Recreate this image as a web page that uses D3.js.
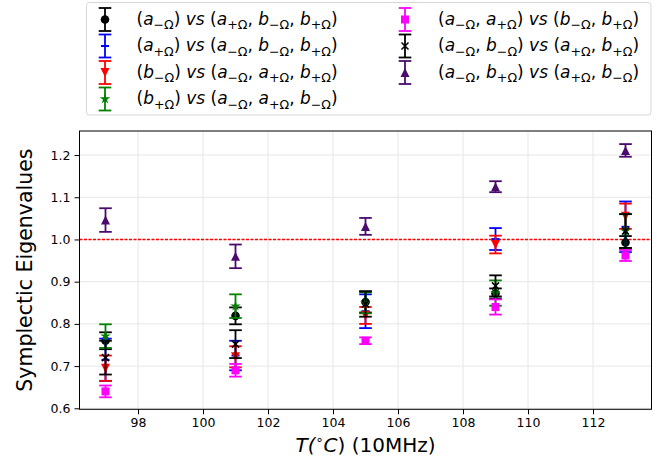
<!DOCTYPE html>
<html><head><meta charset="utf-8">
<script src="https://cdn.jsdelivr.net/npm/d3@7/dist/d3.min.js"></script>
<style>body{margin:0;background:#fff}svg{display:block}</style>
</head><body><svg id="chart" width="659" height="466"></svg>
<script>
// Temperatures (x) at which the eigenvalues were measured
const temps = [97, 101, 105, 109, 113];
const xTicks = [98, 100, 102, 104, 106, 108, 110, 112];
const yTicks = [0.6, 0.7, 0.8, 0.9, 1.0, 1.1, 1.2];

// One array of values and one of error bars per bipartition
const aMinusVals  = [0.760, 0.819, 0.852, 0.872, 0.993];
const aMinusErr   = [0.020, 0.020, 0.025, 0.012, 0.015];
const aPlusVals   = [0.715, 0.725, 0.830, 1.001, 1.030];
const aPlusErr    = [0.050, 0.035, 0.040, 0.026, 0.060];
const bMinusVals  = [0.695, 0.722, 0.820, 0.988, 1.055];
const bMinusErr   = [0.030, 0.025, 0.020, 0.021, 0.030];
const bPlusVals   = [0.771, 0.842, 0.850, 0.873, 1.020];
const bPlusErr    = [0.028, 0.028, 0.025, 0.030, 0.040];
const aaVals      = [0.640, 0.690, 0.760, 0.840, 0.962];
const aaErr       = [0.014, 0.015, 0.008, 0.018, 0.013];
const abVals      = [0.720, 0.752, 0.847, 0.890, 1.020];
const abErr       = [0.040, 0.033, 0.030, 0.025, 0.040];
const apbmVals    = [1.046, 0.960, 1.031, 1.125, 1.211];
const apbmErr     = [0.028, 0.028, 0.020, 0.013, 0.015];

const labels = [
  "(a_{−Ω}) vs (a_{+Ω}, b_{−Ω}, b_{+Ω})",
  "(a_{+Ω}) vs (a_{−Ω}, b_{−Ω}, b_{+Ω})",
  "(b_{−Ω}) vs (a_{−Ω}, a_{+Ω}, b_{+Ω})",
  "(b_{+Ω}) vs (a_{−Ω}, a_{+Ω}, b_{−Ω})",
  "(a_{−Ω}, a_{+Ω}) vs (b_{−Ω}, b_{+Ω})",
  "(a_{−Ω}, b_{−Ω}) vs (a_{+Ω}, b_{+Ω})",
  "(a_{−Ω}, b_{+Ω}) vs (a_{+Ω}, b_{−Ω})"
];
const colors  = ["#000000", "#0000ff", "#ff0000", "#008000", "#ff00ff", "#000000", "#4b0a6e"];
const markers = ["circle", "hline", "tridown", "star", "square", "cross", "triup"];
const values  = [aMinusVals, aPlusVals, bMinusVals, bPlusVals, aaVals, abVals, apbmVals];
const errors  = [aMinusErr, aPlusErr, bMinusErr, bPlusErr, aaErr, abErr, apbmErr];

const series = labels.map((label, i) => ({
  label, color: colors[i], marker: markers[i],
  points: temps.map((t, j) => ({ t, v: values[i][j], e: errors[i][j] }))
}));

const svg = d3.select("#chart");
const FONT = "DejaVu Sans, sans-serif";
const m = { left: 79.5, right: 651.5, top: 131, bottom: 409.3 };

const x = d3.scaleLinear().domain([96.2, 113.8]).range([m.left, m.right]);
const y = d3.scaleLinear().domain([0.5976, 1.257]).range([m.bottom, m.top]);

// grid
const grid = svg.append("g").attr("stroke", "#e6e6e6").attr("stroke-width", 1);
grid.selectAll(".gx").data(xTicks).join("line")
  .attr("x1", d => x(d)).attr("x2", d => x(d)).attr("y1", m.top).attr("y2", m.bottom);
grid.selectAll(".gy").data(yTicks).join("line")
  .attr("x1", m.left).attr("x2", m.right).attr("y1", d => y(d)).attr("y2", d => y(d));

// reference line at unity
svg.append("line")
  .attr("x1", m.left).attr("x2", m.right).attr("y1", y(1.0)).attr("y2", y(1.0))
  .attr("stroke", "#ff0000").attr("stroke-width", 1.5).attr("stroke-dasharray", "3,1.5");

// axes
const xAxis = d3.axisBottom(x).tickValues(xTicks).tickFormat(d3.format("d")).tickSize(5).tickPadding(4);
const yAxis = d3.axisLeft(y).tickValues(yTicks).tickFormat(d3.format(".1f")).tickSize(5).tickPadding(4);
const gx = svg.append("g").attr("transform", `translate(0,${m.bottom})`).call(xAxis);
const gy = svg.append("g").attr("transform", `translate(${m.left},0)`).call(yAxis);
[gx, gy].forEach(g => {
  g.select(".domain").remove();
  g.selectAll("text").attr("font-family", FONT).attr("font-size", 12.5).attr("fill", "#000");
  g.selectAll("line").attr("stroke", "#000").attr("stroke-width", 1);
});

// frame
svg.append("rect").attr("x", m.left).attr("y", m.top)
  .attr("width", m.right - m.left).attr("height", m.bottom - m.top)
  .attr("fill", "none").attr("stroke", "#000").attr("stroke-width", 1);

// marker glyphs
function drawMarker(g, type, color) {
  const s = 4.5;
  switch (type) {
    case "circle":
      g.append("circle").attr("r", 4.3).attr("fill", color); break;
    case "square":
      g.append("rect").attr("x", -4).attr("y", -4).attr("width", 8).attr("height", 8).attr("fill", color); break;
    case "tridown":
      g.append("path").attr("d", `M${-s},${-s}L${s},${-s}L0,${s}Z`).attr("fill", color); break;
    case "triup":
      g.append("path").attr("d", `M${-s},${s}L${s},${s}L0,${-s}Z`).attr("fill", color); break;
    case "star":
      g.append("path").attr("d", d3.symbol(d3.symbolStar, 34)()).attr("fill", color); break;
    case "cross":
      g.append("path").attr("d", `M-3.5,-3.5L3.5,3.5M-3.5,3.5L3.5,-3.5`)
        .attr("stroke", color).attr("stroke-width", 1.5); break;
    case "hline":
      g.append("path").attr("d", `M-4,0L4,0`).attr("stroke", color).attr("stroke-width", 2); break;
  }
}

function drawErrorBar(g, x0, yTop, yBot, color) {
  const cap = 6.3;
  g.append("line").attr("x1", x0).attr("x2", x0).attr("y1", yTop).attr("y2", yBot)
    .attr("stroke", color).attr("stroke-width", 1.8);
  [yTop, yBot].forEach(yy => g.append("line")
    .attr("x1", x0 - cap).attr("x2", x0 + cap).attr("y1", yy).attr("y2", yy)
    .attr("stroke", color).attr("stroke-width", 1.8));
}

// data marks
const plot = svg.append("g");
series.forEach(s => {
  const g = plot.append("g");
  s.points.forEach(p => {
    drawErrorBar(g, x(p.t), y(p.v + p.e), y(p.v - p.e), s.color);
    drawMarker(g.append("g").attr("transform", `translate(${x(p.t)},${y(p.v)})`), s.marker, s.color);
  });
});

// axis titles
svg.append("text").attr("x", (m.left + m.right) / 2).attr("y", 452)
  .attr("text-anchor", "middle").attr("font-family", FONT).attr("font-size", 20)
  .call(t => {
    t.append("tspan").attr("font-style", "italic").text("T(");
    t.append("tspan").attr("font-size", 13).attr("dy", -8).text("∘");
    t.append("tspan").attr("dy", 8).attr("font-style", "italic").text("C");
    t.append("tspan").text(") (10MHz)");
  });
svg.append("text").attr("transform", `translate(32,${(m.top + m.bottom) / 2}) rotate(-90)`)
  .attr("text-anchor", "middle").attr("font-family", FONT).attr("font-size", 20.5)
  .text("Symplectic Eigenvalues");

// legend label: letters italic, _{...} drawn as a lowered subscript
function mathLabel(textSel, str) {
  const re = /_\{([^}]*)\}|([a-zA-Z]+)|([^_a-zA-Z]+)/g;
  const drop = 4.5;
  let pending = 0, mm;
  while ((mm = re.exec(str)) !== null) {
    let ts;
    if (mm[1] !== undefined) {
      ts = textSel.append("tspan").attr("font-size", 12.6).attr("dy", pending + drop).text(mm[1]);
      pending = -drop;
      continue;
    } else if (mm[2] !== undefined) {
      ts = textSel.append("tspan").attr("font-style", "italic").text(mm[2]);
    } else {
      ts = textSel.append("tspan").text(mm[3]);
    }
    if (pending) ts.attr("dy", pending);
    pending = 0;
  }
}

const legend = svg.append("g");
legend.append("rect").attr("x", 86.5).attr("y", 2.5).attr("width", 564.5).attr("height", 112.5)
  .attr("rx", 3).attr("fill", "#fff").attr("stroke", "#d6d6d6").attr("stroke-width", 1);
const rowY = [19.5, 46, 72.5, 99];
series.forEach((s, i) => {
  const col = i < 4 ? 0 : 1;
  const row = i < 4 ? i : i - 4;
  const hx = col === 0 ? 105 : 405;
  const tx = col === 0 ? 136.5 : 438;
  const cy = rowY[row];
  const g = legend.append("g");
  drawErrorBar(g, hx, cy - 11.5, cy + 11.5, s.color);
  drawMarker(g.append("g").attr("transform", `translate(${hx},${cy})`), s.marker, s.color);
  const t = legend.append("text").attr("x", tx).attr("y", cy + 5)
    .attr("font-family", FONT).attr("font-size", 17).attr("fill", "#000");
  mathLabel(t, s.label);
});
</script></body></html>
